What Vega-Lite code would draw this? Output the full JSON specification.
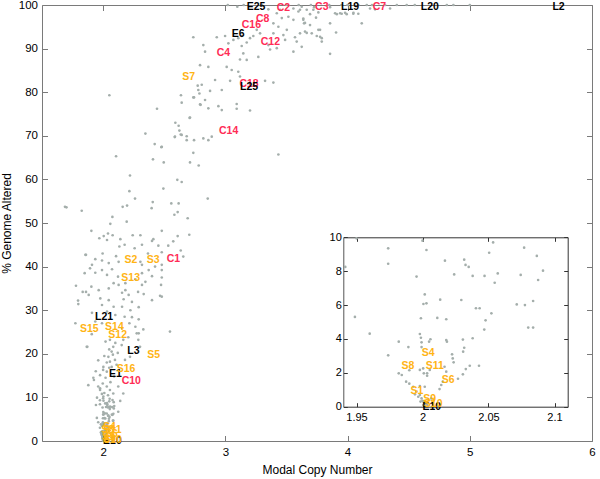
{
"$schema": "https://vega.github.io/schema/vega-lite/v6.json",
"width": 550, "height": 436,
"autosize": {"type": "none"},
"padding": {"left": 42, "top": 5, "right": 8, "bottom": 38},
"config": {"view": {"stroke": null}, "font": "Liberation Sans",
  "axis": {"grid": false, "labelFont": "Liberation Sans", "titleFont": "Liberation Sans", "labelColor": "#000", "titleColor": "#000", "titleFontWeight": "normal", "labelFlush": false, "labelOverlap": false}},
"datasets": {
"pts": [
{"x":1.95,"y":9.94},{"x":1.974,"y":9.35},{"x":1.974,"y":8.44},{"x":1.9415,"y":8.25},{"x":2.003,"y":9.25},{"x":2.0,"y":9.8},{"x":1.9955,"y":7.68},{"x":2.017,"y":8.62},{"x":2.024,"y":7.81},{"x":2.0316,"y":8.68},{"x":2.0326,"y":8.37},{"x":2.035,"y":8.25},{"x":2.038,"y":7.72},{"x":2.047,"y":7.72},{"x":2.0505,"y":9.09},{"x":2.0535,"y":9.7},{"x":2.0547,"y":7.32},{"x":2.057,"y":7.87},{"x":2.077,"y":9.39},{"x":2.0744,"y":7.78},{"x":2.0866,"y":8.9},{"x":2.0876,"y":7.48},{"x":2.0913,"y":8.03},{"x":1.9488,"y":5.3},{"x":1.96,"y":4.31},{"x":1.974,"y":3.03},{"x":2.0017,"y":6.63},{"x":2.0007,"y":6.06},{"x":2.003,"y":6.1},{"x":1.9988,"y":5.22},{"x":2.0112,"y":5.24},{"x":2.018,"y":5.16},{"x":2.0134,"y":6.32},{"x":2.0294,"y":6.3},{"x":2.0405,"y":5.81},{"x":2.0433,"y":5.81},{"x":2.0522,"y":5.51},{"x":2.0478,"y":5.1},{"x":2.0468,"y":4.55},{"x":2.0714,"y":6.04},{"x":2.0776,"y":6.0},{"x":2.0838,"y":6.24},{"x":2.0801,"y":4.67},{"x":2.0838,"y":4.67},{"x":1.998,"y":4.29},{"x":1.9988,"y":4.07},{"x":2.006,"y":3.98},{"x":2.005,"y":3.84},{"x":1.982,"y":3.84},{"x":1.9893,"y":3.52},{"x":1.9993,"y":3.8},{"x":1.9993,"y":3.52},{"x":2.018,"y":3.94},{"x":2.0185,"y":3.84},{"x":2.0306,"y":3.96},{"x":2.0316,"y":3.48},{"x":2.0308,"y":3.25},{"x":2.038,"y":4.04},{"x":2.0224,"y":3.09},{"x":2.0229,"y":2.85},{"x":2.0236,"y":2.62},{"x":2.0167,"y":2.36},{"x":2.018,"y":2.07},{"x":1.998,"y":2.17},{"x":2.0005,"y":2.26},{"x":2.001,"y":1.97},{"x":2.0035,"y":1.97},{"x":2.0055,"y":2.17},{"x":1.99,"y":2.15},{"x":1.9843,"y":1.87},{"x":1.982,"y":1.97},{"x":1.9876,"y":1.48},{"x":1.99,"y":1.36},{"x":2.0035,"y":1.83},{"x":2.0129,"y":1.04},{"x":2.0142,"y":1.28},{"x":2.0154,"y":1.48},{"x":2.0269,"y":1.65},{"x":2.0306,"y":1.91},{"x":2.0328,"y":2.22},{"x":2.0358,"y":2.42},{"x":2.0428,"y":2.42},{"x":1.993,"y":1.18},{"x":1.9955,"y":0.89},{"x":1.998,"y":0.69},{"x":1.998,"y":1.22},{"x":2.0017,"y":1.18},{"x":1.9993,"y":0.49},{"x":2.0,"y":0.35},{"x":2.001,"y":0.26},{"x":2.0025,"y":0.16},{"x":1.9985,"y":0.3},{"x":2.0035,"y":0.1},{"x":2.005,"y":0.39},{"x":2.0067,"y":0.49},{"x":1.9968,"y":0.59},{"x":1.9943,"y":0.73},{"x":2.0005,"y":0.1},
{"x":2.124,"y":6.7},{"x":2.14,"y":9.2},{"x":1.879,"y":12.8},{"x":1.925,"y":14.0},{"x":1.975,"y":12.1},{"x":1.92,"y":14.5},{"x":1.96,"y":12.5},{"x":1.997,"y":13.2},{"x":2.03,"y":12.5},{"x":2.056,"y":11.7},{"x":2.124,"y":12.5},{"x":2.083,"y":10.9},{"x":2.165,"y":10.9},{"x":2.002,"y":10.2},{"x":2.01,"y":11.0},{"x":2.04,"y":10.5},{"x":1.99,"y":10.8},{"x":2.06,"y":13.5},{"x":2.02,"y":14.5},{"x":2.09,"y":14.8},{"x":2.0,"y":16.3},{"x":2.05,"y":16.8},{"x":2.11,"y":17.5},{"x":2.03,"y":18.0},{"x":2.08,"y":19.8},{"x":2.01,"y":19.5},{"x":2.05,"y":21.0},{"x":2.1,"y":22.5},{"x":2.02,"y":22.8},{"x":2.12,"y":20.2},{"x":1.96,"y":18.5},{"x":1.94,"y":16.0},{"x":1.975,"y":11.7},
{"x":1.866,"y":21.6},{"x":1.907,"y":24.5},{"x":2.056,"y":23.2},{"x":2.083,"y":21.6},{"x":2.07,"y":20.5},{"x":2.152,"y":22.0},{"x":2.165,"y":23.2},{"x":2.206,"y":23.8},{"x":2.275,"y":24.7},{"x":2.288,"y":23.2},{"x":2.302,"y":21.6},{"x":2.329,"y":25.6},{"x":2.547,"y":25.1},{"x":2.043,"y":19.3},{"x":2.056,"y":18.2},{"x":2.097,"y":18.6},{"x":2.002,"y":17.0},{"x":2.03,"y":15.9},{"x":1.975,"y":15.1},{"x":2.07,"y":17.0},{"x":2.179,"y":18.6},{"x":2.22,"y":19.3},{"x":1.871,"y":21.6},
{"x":1.904,"y":48.2},{"x":1.969,"y":46.5},{"x":2.005,"y":47.0},{"x":2.04,"y":47.6},{"x":2.078,"y":47.2},{"x":2.032,"y":46.1},{"x":2.141,"y":46.3},{"x":2.176,"y":45.0},{"x":2.133,"y":44.6},{"x":2.242,"y":47.2},{"x":2.305,"y":47.2},{"x":2.258,"y":44.2},{"x":2.318,"y":45.0},{"x":2.4,"y":45.9},{"x":2.367,"y":43.0},{"x":1.855,"y":42.7},{"x":1.996,"y":43.0},{"x":2.106,"y":42.4},{"x":1.936,"y":41.7},{"x":1.991,"y":41.4},{"x":1.909,"y":40.4},{"x":2.046,"y":40.8},{"x":2.127,"y":41.1},{"x":2.305,"y":41.1},{"x":2.318,"y":40.4},{"x":1.849,"y":38.5},{"x":1.936,"y":38.6},{"x":1.991,"y":39.2},{"x":2.073,"y":39.4},{"x":2.032,"y":38.1},{"x":2.122,"y":37.7},{"x":2.318,"y":38.5},{"x":2.373,"y":39.2},{"x":2.4,"y":37.8},{"x":2.346,"y":36.5},{"x":2.264,"y":37.1},{"x":2.086,"y":36.2},{"x":2.127,"y":35.8},{"x":2.182,"y":36.2},{"x":2.318,"y":35.8},{"x":1.778,"y":35.6},{"x":1.904,"y":35.4},{"x":1.964,"y":34.6},{"x":2.046,"y":35.0},{"x":1.833,"y":34.2},{"x":1.882,"y":33.5},{"x":2.155,"y":34.0},{"x":2.182,"y":34.6},{"x":2.209,"y":33.5},{"x":2.286,"y":34.2},{"x":2.332,"y":33.7},{"x":2.4,"y":32.3},{"x":1.795,"y":32.2},{"x":1.977,"y":32.7},{"x":2.046,"y":32.3},{"x":2.168,"y":32.5},{"x":2.236,"y":31.9},{"x":1.991,"y":31.2},{"x":2.086,"y":30.8},{"x":2.155,"y":30.8},{"x":2.223,"y":30.0},{"x":2.291,"y":30.7},{"x":1.909,"y":29.4},{"x":2.032,"y":29.7},{"x":2.1,"y":28.9},{"x":2.176,"y":28.5},{"x":2.236,"y":28.4},{"x":2.291,"y":27.9},{"x":1.936,"y":27.4},{"x":1.991,"y":27.0},{"x":2.215,"y":27.0},{"x":2.264,"y":26.2},{"x":2.155,"y":25.9},{"x":1.773,"y":27.0},{"x":2.291,"y":24.7},{"x":1.86,"y":34.2},{"x":1.86,"y":42.7},{"x":1.893,"y":39.6},{"x":1.797,"y":31.4},
{"x":2.48,"y":48.2},{"x":2.705,"y":47.3},{"x":2.61,"y":47.0},{"x":2.411,"y":46.3},{"x":2.574,"y":45.8},{"x":2.533,"y":44.8},{"x":2.452,"y":44.8},{"x":2.635,"y":43.7},{"x":2.48,"y":43.3},{"x":2.656,"y":42.3},{"x":2.48,"y":40.4},{"x":2.425,"y":40.0},{"x":2.48,"y":39.2},{"x":2.48,"y":37.5},{"x":2.474,"y":35.8},{"x":2.466,"y":33.3},{"x":2.48,"y":33.1},
{"x":2.051,"y":79.3},{"x":2.441,"y":76.2},{"x":2.637,"y":79.3},{"x":2.643,"y":77.6},{"x":2.744,"y":78.8},{"x":2.774,"y":81.5},{"x":2.788,"y":79.7},{"x":2.798,"y":77.1},{"x":2.708,"y":74.1},{"x":2.591,"y":73.0},{"x":2.618,"y":72.3},{"x":2.624,"y":71.2},{"x":2.635,"y":70.3},{"x":2.586,"y":69.7},{"x":2.684,"y":69.9},{"x":2.744,"y":69.0},{"x":2.346,"y":70.5},{"x":2.422,"y":68.1},{"x":2.477,"y":67.4},{"x":2.738,"y":66.1},{"x":2.106,"y":65.3},{"x":2.408,"y":64.6},{"x":2.496,"y":63.9},{"x":2.711,"y":63.9},{"x":2.782,"y":63.2},{"x":2.22,"y":60.9},{"x":2.607,"y":59.9},{"x":2.643,"y":59.4},{"x":2.493,"y":57.9},{"x":2.215,"y":57.3},{"x":2.261,"y":55.6},{"x":2.406,"y":54.8},{"x":2.558,"y":54.5},{"x":2.618,"y":54.5},{"x":2.16,"y":53.7},{"x":2.196,"y":54.0},{"x":1.688,"y":53.7},{"x":1.70,"y":53.6},{"x":1.825,"y":52.8},{"x":2.397,"y":53.4},{"x":2.61,"y":52.5},{"x":2.583,"y":51.9},{"x":2.692,"y":51.1},{"x":2.076,"y":51.4},{"x":2.059,"y":49.8},{"x":2.193,"y":50.3},{"x":3.434,"y":65.7},{"x":2.856,"y":55.6},
{"x":3.098,"y":99.6},{"x":3.352,"y":99.0},{"x":3.421,"y":98.1},{"x":3.448,"y":98.9},{"x":3.557,"y":99.2},{"x":3.598,"y":98.5},{"x":3.625,"y":99.6},{"x":3.666,"y":98.9},{"x":3.726,"y":99.5},{"x":3.693,"y":97.9},{"x":3.761,"y":98.3},{"x":3.857,"y":99.5},{"x":3.912,"y":97.9},{"x":3.952,"y":98.0},{"x":3.993,"y":97.9},{"x":4.047,"y":98.0},{"x":4.088,"y":98.0},{"x":4.184,"y":99.2},{"x":4.348,"y":99.2},{"x":4.116,"y":95.8},{"x":3.857,"y":95.8},{"x":3.638,"y":96.6},{"x":3.644,"y":95.8},{"x":3.775,"y":94.3},{"x":3.789,"y":92.4},{"x":3.857,"y":88.8},{"x":3.625,"y":90.4},{"x":3.557,"y":89.3},{"x":3.652,"y":93.9},{"x":3.611,"y":93.5},{"x":3.748,"y":92.9},{"x":3.584,"y":91.6},{"x":3.57,"y":92.6},{"x":3.503,"y":94.3},{"x":3.475,"y":93.1},{"x":3.489,"y":92.0},{"x":3.421,"y":90.1},{"x":3.366,"y":89.8},{"x":3.352,"y":90.8},{"x":3.393,"y":95.8},{"x":3.434,"y":95.0},{"x":3.393,"y":93.5},{"x":3.462,"y":97.0},{"x":3.516,"y":97.3},{"x":3.557,"y":96.6},{"x":3.284,"y":93.5},{"x":3.257,"y":94.3},{"x":3.229,"y":92.9},{"x":3.202,"y":92.4},{"x":3.134,"y":92.9},{"x":3.106,"y":92.4},{"x":3.066,"y":92.0},{"x":2.998,"y":92.9},{"x":2.93,"y":92.6},{"x":3.025,"y":91.2},{"x":3.134,"y":90.6},{"x":3.175,"y":91.4},{"x":3.27,"y":88.1},{"x":3.147,"y":88.9},{"x":3.12,"y":87.5},{"x":3.175,"y":87.4},{"x":2.82,"y":90.8},{"x":2.834,"y":89.3},{"x":2.738,"y":92.6},{"x":2.793,"y":86.2},{"x":2.861,"y":85.8},{"x":3.011,"y":85.8},{"x":3.052,"y":85.1},{"x":3.106,"y":84.7},{"x":3.12,"y":83.6},{"x":3.039,"y":82.6},{"x":2.916,"y":82.8},{"x":3.325,"y":82.6},{"x":3.393,"y":82.2},{"x":3.202,"y":82.0},{"x":2.807,"y":81.7},{"x":2.779,"y":80.5},{"x":2.875,"y":80.3},{"x":2.971,"y":80.5},{"x":2.738,"y":78.8},{"x":2.834,"y":78.2},{"x":2.793,"y":77.2},{"x":2.861,"y":76.3},{"x":2.943,"y":76.8},{"x":2.971,"y":75.9},{"x":3.093,"y":77.3},{"x":3.093,"y":76.2},{"x":3.202,"y":75.8},{"x":2.711,"y":74.2},{"x":2.588,"y":69.8},{"x":2.643,"y":70.2},{"x":2.684,"y":69.0},{"x":2.82,"y":69.4},{"x":2.889,"y":69.8},{"x":2.861,"y":69.0},{"x":2.48,"y":67.5},
{"x":3.611,"y":98.9},{"x":3.638,"y":96.9},{"x":3.652,"y":95.9},{"x":3.666,"y":93.6},{"x":3.707,"y":93.5},{"x":3.693,"y":95.4},{"x":3.761,"y":94.3},{"x":3.775,"y":92.7},{"x":3.789,"y":91.6},{"x":3.906,"y":93.7},{"x":3.742,"y":97.1},{"x":3.72,"y":98.9},{"x":3.898,"y":98.1},{"x":3.939,"y":98.1},{"x":3.98,"y":98.2},{"x":4.048,"y":98.2},{"x":4.088,"y":100},{"x":4.157,"y":100},{"x":4.225,"y":99.0},{"x":4.307,"y":100},{"x":4.403,"y":100},{"x":4.484,"y":100},{"x":4.812,"y":100},{"x":4.866,"y":100},
{"x":3.02,"y":100},{"x":3.15,"y":100},{"x":3.3,"y":100},{"x":3.5,"y":100},{"x":3.6,"y":100},{"x":3.7,"y":100},{"x":3.85,"y":100},{"x":3.95,"y":100},{"x":4.0,"y":100},{"x":4.2,"y":100},{"x":4.55,"y":100},{"x":5.0,"y":100}
],
"labs": [
{"x":3.42,"y":99.2,"label":"C2","grp":"C"},{"x":3.734,"y":99.6,"label":"C3","grp":"C"},{"x":4.206,"y":99.6,"label":"C7","grp":"C"},{"x":3.251,"y":96.8,"label":"C8","grp":"C"},{"x":3.134,"y":95.4,"label":"C16","grp":"C"},{"x":3.29,"y":91.4,"label":"C12","grp":"C"},{"x":2.93,"y":89.1,"label":"C4","grp":"C"},{"x":3.115,"y":81.8,"label":"C18","grp":"C"},{"x":2.948,"y":71.0,"label":"C14","grp":"C"},{"x":2.52,"y":41.8,"label":"C1","grp":"C"},{"x":2.152,"y":13.8,"label":"C10","grp":"C"},
{"x":3.175,"y":99.6,"label":"E25","grp":"K"},{"x":3.947,"y":99.6,"label":"L19","grp":"K"},{"x":4.599,"y":99.6,"label":"L20","grp":"K"},{"x":5.676,"y":99.6,"label":"L2","grp":"K"},{"x":3.052,"y":93.4,"label":"E6","grp":"K"},{"x":3.12,"y":81.1,"label":"L25","grp":"K"},{"x":1.934,"y":28.5,"label":"L21","grp":"K"},{"x":2.198,"y":20.7,"label":"L3","grp":"K"},{"x":2.048,"y":15.4,"label":"E1","grp":"K"},{"x":2.0,"y":0.0,"label":"E10","grp":"K"},
{"x":2.648,"y":83.4,"label":"S7","grp":"S"},{"x":2.174,"y":41.4,"label":"S2","grp":"S"},{"x":2.357,"y":41.4,"label":"S3","grp":"S"},{"x":2.149,"y":37.3,"label":"S13","grp":"S"},{"x":1.811,"y":25.6,"label":"S15","grp":"S"},{"x":2.016,"y":26.1,"label":"S14","grp":"S"},{"x":2.043,"y":24.2,"label":"S12","grp":"S"},{"x":2.362,"y":19.8,"label":"S5","grp":"S"},{"x":2.111,"y":16.4,"label":"S16","grp":"S"},
{"x":1.9995,"y":3.19,"label":"S4","grp":"S"},{"x":1.984,"y":2.42,"label":"S8","grp":"S"},{"x":2.0025,"y":2.42,"label":"S11","grp":"S"},{"x":2.0146,"y":1.58,"label":"S6","grp":"S"},{"x":1.991,"y":0.95,"label":"S1","grp":"S"},{"x":2.0005,"y":0.45,"label":"S9","grp":"S"},{"x":2.001,"y":0.15,"label":"S10","grp":"S"}
]
},
"layer": [
{
 "layer": [
  {"data": {"name": "pts"}, "mark": {"type": "circle", "size": 7, "color": "#a4aeab", "opacity": 1},
   "encoding": {
    "x": {"field": "x", "type": "quantitative", "scale": {"domain": [1.5, 6], "nice": false, "zero": false},
      "axis": {"orient": "bottom", "values": [2,3,4,5,6], "tickSize": -5.5, "labelPadding": 11, "labelFontSize": 11.5, "domainColor": "#7a7a7a", "tickColor": "#7a7a7a", "title": "Modal Copy Number", "titleFontSize": 12, "titlePadding": 6}},
    "y": {"field": "y", "type": "quantitative", "scale": {"domain": [0, 100], "nice": false},
      "axis": {"orient": "left", "values": [0,10,20,30,40,50,60,70,80,90,100], "tickSize": -5.5, "labelPadding": 10, "labelFontSize": 11.5, "domainColor": "#7a7a7a", "tickColor": "#7a7a7a", "title": "% Genome Altered", "titleFontSize": 12, "titlePadding": 5}}
   }},
  {"data": {"name": "labs"}, "mark": {"type": "text", "align": "left", "baseline": "middle", "fontSize": 10.5, "fontWeight": "bold"},
   "encoding": {
    "x": {"field": "x", "type": "quantitative", "axis": {"orient": "top", "values": [2,3,4,5,6], "tickSize": -5.5, "labels": false, "title": null, "domainColor": "#7a7a7a", "tickColor": "#7a7a7a"}},
    "y": {"field": "y", "type": "quantitative", "axis": {"orient": "right", "values": [0,10,20,30,40,50,60,70,80,90,100], "tickSize": -5.5, "labels": false, "title": null, "domainColor": "#7a7a7a", "tickColor": "#7a7a7a"}},
    "text": {"field": "label"},
    "color": {"field": "grp", "type": "nominal", "scale": {"domain": ["C","K","S"], "range": ["#ff2c55", "#000000", "#ffb415"]}, "legend": null}
   }}
 ],
 "resolve": {"axis": {"x": "independent", "y": "independent"}}
},
{
 "layer": [
  {"data": {"name": "pts"}, "transform": [{"filter": "datum.x >= 1.94 && datum.x <= 2.11 && datum.y <= 10"}],
   "mark": {"type": "circle", "size": 7, "color": "#a4aeab", "opacity": 1},
   "encoding": {
    "x": {"field": "x", "type": "quantitative", "scale": {"domain": [1.94, 2.11], "range": [301.3, 525.7], "nice": false, "zero": false},
      "axis": {"orient": "bottom", "offset": -34.3, "values": [1.95, 2, 2.05, 2.1], "format": "~g", "tickSize": -4, "labelPadding": 9, "labelFontSize": 11, "domainColor": "#333", "tickColor": "#333", "title": null}},
    "y": {"field": "y", "type": "quantitative", "scale": {"domain": [0, 10], "range": [401.7, 232.3], "nice": false},
      "axis": {"orient": "left", "offset": -301.3, "values": [0,2,4,6,8,10], "tickSize": -4, "labelPadding": 6, "labelFontSize": 11, "domainColor": "#555", "tickColor": "#333", "title": null}}
   }},
  {"data": {"name": "labs"}, "transform": [{"filter": "datum.x >= 1.94 && datum.x <= 2.11 && datum.y <= 10"}],
   "mark": {"type": "text", "align": "left", "baseline": "middle", "fontSize": 10.5, "fontWeight": "bold"},
   "encoding": {
    "x": {"field": "x", "type": "quantitative", "axis": {"orient": "top", "offset": -232.3, "values": [1.95, 2, 2.05, 2.1], "tickSize": -4, "labels": false, "title": null, "domainColor": "#333", "tickColor": "#333"}},
    "y": {"field": "y", "type": "quantitative", "axis": {"orient": "right", "offset": -24.3, "values": [0,2,4,6,8,10], "tickSize": -4, "labels": false, "title": null, "domainColor": "#333", "tickColor": "#333"}},
    "text": {"field": "label"},
    "color": {"field": "grp", "type": "nominal", "legend": null}
   }}
 ],
 "resolve": {"axis": {"x": "independent", "y": "independent"}}
}
],
"resolve": {"scale": {"x": "independent", "y": "independent"}}
}
